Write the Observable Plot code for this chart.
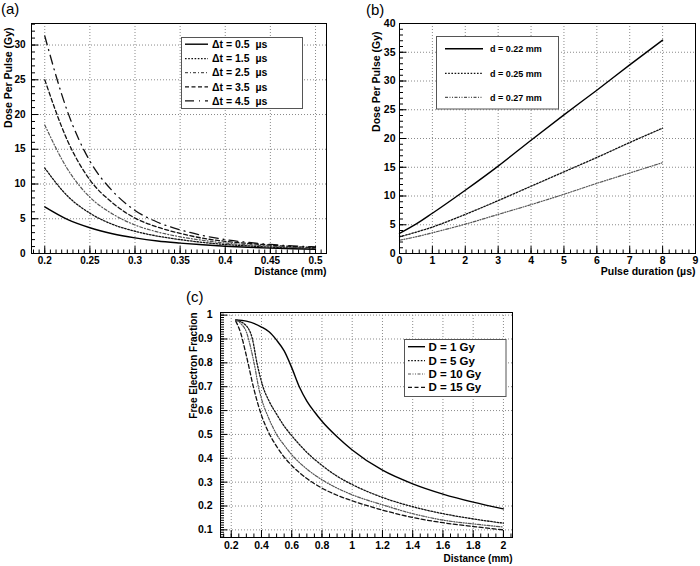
<!DOCTYPE html>
<html><head><meta charset="utf-8">
<script src="https://cdn.jsdelivr.net/npm/d3@7"></script>
<script src="https://cdn.jsdelivr.net/npm/@observablehq/plot@0.6"></script>
<style>
body{margin:0;background:#fff;}
#root{position:relative;width:700px;height:566px;background:#fff;overflow:hidden;}
.panel{position:absolute;}
#overlay{position:absolute;left:0;top:0;pointer-events:none;}
</style></head><body><div id="root"></div>
<script>
const FONT = '"Liberation Sans", Arial, Helvetica, sans-serif';

// ---------- Panel (a): Dose per pulse vs distance ----------
const aX = [0.2, 0.225, 0.25, 0.275, 0.3, 0.325, 0.35, 0.375, 0.4, 0.425, 0.45, 0.475, 0.5];
const aDose05 = [6.7, 4.9, 3.7, 2.85, 2.25, 1.8, 1.5, 1.25, 1.05, 0.9, 0.78, 0.68, 0.6];
const aDose15 = [12.3, 8.3, 5.8, 4.2, 3.2, 2.5, 2.0, 1.6, 1.3, 1.1, 0.92, 0.8, 0.68];
const aDose25 = [18.5, 12.2, 8.1, 5.7, 4.1, 3.1, 2.4, 1.9, 1.5, 1.25, 1.05, 0.88, 0.75];
const aDose35 = [25, 16.3, 10.6, 7.3, 5.1, 3.8, 2.9, 2.2, 1.75, 1.45, 1.2, 1.0, 0.85];
const aDose45 = [31.3, 20.5, 13.3, 9.0, 6.2, 4.5, 3.4, 2.6, 2.0, 1.6, 1.3, 1.1, 0.95];
const aNames = ["\u0394t = 0.5 \u00a0\u00b5s", "\u0394t = 1.5 \u00a0\u00b5s", "\u0394t = 2.5 \u00a0\u00b5s", "\u0394t = 3.5 \u00a0\u00b5s", "\u0394t = 4.5 \u00a0\u00b5s"];
const aXTicks = [0.2, 0.25, 0.3, 0.35, 0.4, 0.45, 0.5];
const aYTicks = [0, 5, 10, 15, 20, 25, 30];

// ---------- Panel (b): Dose per pulse vs pulse duration ----------
const bX = [0, 0.5, 1, 2, 3, 4, 5, 6, 7, 8];
const bDose022 = [3.5, 5.1, 7.0, 11.0, 15.2, 19.7, 24.1, 28.4, 32.8, 37.1];
const bDose025 = [2.9, 3.7, 4.6, 6.8, 9.2, 11.7, 14.2, 16.7, 19.3, 21.8];
const bDose027 = [2.3, 2.9, 3.6, 5.1, 6.8, 8.5, 10.3, 12.2, 14.0, 15.8];
const bNames = ["d = 0.22 mm", "d = 0.25 mm", "d = 0.27 mm"];
const bXTicks = [0, 1, 2, 3, 4, 5, 6, 7, 8, 9];
const bYTicks = [0, 5, 10, 15, 20, 25, 30, 35, 40];

// ---------- Panel (c): Free electron fraction vs distance ----------
const cX1 = [0.23, 0.3, 0.4, 0.45, 0.5, 0.55, 0.6, 0.65, 0.7, 0.75, 0.8, 0.9, 1.0, 1.2, 1.4, 1.6, 1.8, 2.0];
const cF1 = [0.98, 0.975, 0.95, 0.93, 0.895, 0.85, 0.78, 0.7, 0.64, 0.595, 0.555, 0.49, 0.435, 0.35, 0.293, 0.25, 0.216, 0.188];
const cX5 = [0.23, 0.3, 0.34, 0.37, 0.41, 0.45, 0.5, 0.55, 0.6, 0.7, 0.8, 0.9, 1.0, 1.2, 1.4, 1.6, 1.8, 2.0];
const cF5 = [0.98, 0.955, 0.9, 0.8, 0.7, 0.64, 0.585, 0.535, 0.495, 0.425, 0.37, 0.325, 0.29, 0.236, 0.197, 0.168, 0.146, 0.128];
const cX10 = [0.23, 0.27, 0.3, 0.33, 0.36, 0.38, 0.4, 0.45, 0.5, 0.55, 0.6, 0.7, 0.8, 0.9, 1.0, 1.2, 1.4, 1.6, 1.8, 2.0];
const cF10 = [0.98, 0.96, 0.93, 0.86, 0.77, 0.7, 0.65, 0.565, 0.5, 0.455, 0.415, 0.355, 0.31, 0.275, 0.247, 0.205, 0.168, 0.141, 0.125, 0.112];
const cX15 = [0.23, 0.26, 0.3, 0.35, 0.4, 0.45, 0.5, 0.55, 0.6, 0.7, 0.8, 0.9, 1.0, 1.2, 1.4, 1.6, 1.8, 2.0];
const cF15 = [0.975, 0.93, 0.83, 0.69, 0.58, 0.505, 0.45, 0.405, 0.37, 0.315, 0.275, 0.245, 0.222, 0.183, 0.152, 0.13, 0.114, 0.10];
const cNames = ["D = 1 Gy", "D = 5 Gy", "D = 10 Gy", "D = 15 Gy"];
const cXTicks = [0.2, 0.4, 0.6, 0.8, 1, 1.2, 1.4, 1.6, 1.8, 2];
const cYTicks = [0.1, 0.2, 0.3, 0.4, 0.5, 0.6, 0.7, 0.8, 0.9, 1];

// line styles
const SOLID = {stroke: "#000", strokeWidth: 1.4, strokeDasharray: null};
const DOT = {stroke: "#111", strokeWidth: 1.3, strokeDasharray: "1.6,1.6"};
const DASHDOT = {stroke: "#555", strokeWidth: 1.2, strokeDasharray: "3,2,1,2"};
const DASHDOT2 = {stroke: "#555", strokeWidth: 1.2, strokeDasharray: "3,1.5,1,1.5,1,1.5"};
const DASH = {stroke: "#111", strokeWidth: 1.3, strokeDasharray: "4,2.5"};
const LONGDD = {stroke: "#111", strokeWidth: 1.3, strokeDasharray: "9,5,1,5"};

function zip(xs, ys) { return xs.map((x, i) => ({x, y: ys[i]})); }
function minor(lo, hi, step) {
  const n0 = Math.ceil(lo / step - 1e-9), n1 = Math.floor(hi / step + 1e-9);
  return d3.range(n0, n1 + 1).map(i => +(i * step).toFixed(6));
}

const root = document.getElementById("root");

function panel(o) {
  const innerW = o.width - o.ml - o.mr, innerH = o.height - o.mt - o.mb;
  const [xa, xb] = o.xDomain, [ya, yb] = o.yDomain;
  const perPxY = (yb - ya) / innerH, perPxX = (xb - xa) / innerW;
  const tickStyle = {stroke: "#000", strokeWidth: 1, strokeOpacity: 1};
  // ticks drawn inward from the bottom and left axes (lengths in pixels, converted through the scales)
  const xTickMarks = (ticks, len) => Plot.ruleX(ticks, {x: d => d, y1: ya, y2: ya + len * perPxY, ...tickStyle});
  const yTickMarks = (ticks, len) => Plot.link(ticks, {x1: () => xa, x2: () => xa + len * perPxX, y1: d => d, y2: d => d, ...tickStyle});
  const marks = [
    Plot.gridX({ticks: o.xTicks, stroke: "#8a8a8a", strokeOpacity: 1, strokeDasharray: "1,2"}),
    Plot.gridY({ticks: o.yTicks, stroke: "#8a8a8a", strokeOpacity: 1, strokeDasharray: "1,2"}),
    xTickMarks(minor(xa, xb, o.xMinor), 3.5),
    xTickMarks(o.xTicks, 7),
    yTickMarks(minor(ya, yb, o.yMinor), 3.5),
    yTickMarks(o.yTicks, 7),
    Plot.axisX({ticks: o.xTicks, tickSize: 0, tickPadding: o.xPad, tickFormat: o.xFmt, label: null, fontSize: o.tickFont, fontWeight: "bold"}),
    Plot.axisY({ticks: o.yTicks, tickSize: 0, tickPadding: o.yPad, tickFormat: o.yFmt, label: null, fontSize: o.tickFont, fontWeight: "bold"}),
    ...o.series.map(s => Plot.line(s.data, {x: "x", y: "y", curve: "monotone-x", ...s.style})),
    Plot.frame({stroke: "#000", strokeWidth: 1}),
    Plot.text([o.xLabel], {text: d => d, frameAnchor: "bottom-right", textAnchor: "end", lineAnchor: "middle", dy: o.xLabelDy, fontSize: o.titleFont, fontWeight: "bold"}),
    Plot.text([o.yLabel], {text: d => d, frameAnchor: "top-left", textAnchor: "end", lineAnchor: "middle", rotate: -90, dx: o.yLabelDx, dy: o.yLabelDy, fontSize: o.titleFont, fontWeight: "bold"})
  ];
  const chart = Plot.plot({
    width: o.width, height: o.height,
    marginLeft: o.ml, marginRight: o.mr, marginTop: o.mt, marginBottom: o.mb,
    x: {domain: o.xDomain}, y: {domain: o.yDomain},
    style: {fontFamily: FONT, background: "transparent", color: "#000", overflow: "visible"},
    marks
  });
  chart.classList.add("panel");
  chart.style.left = o.left + "px";
  chart.style.top = o.top + "px";
  root.appendChild(chart);
}

const fmt = d => d3.format("")(d);

panel({
  left: 0, top: 0, width: 340, height: 280, ml: 31, mr: 14, mt: 23, mb: 27,
  xDomain: [0.1853, 0.5122], yDomain: [0, 33.1],
  xTicks: aXTicks, yTicks: aYTicks, xMinor: 0.00625, yMinor: 1,
  xFmt: fmt, yFmt: fmt, xPad: 3, yPad: 6, tickFont: 10, titleFont: 10.5,
  xLabel: "Distance (mm)", yLabel: "Dose Per Pulse (Gy)", xLabelDy: 18, yLabelDx: -23, yLabelDy: 4,
  series: [
    {data: zip(aX, aDose05), style: SOLID},
    {data: zip(aX, aDose15), style: DOT},
    {data: zip(aX, aDose25), style: DASHDOT},
    {data: zip(aX, aDose35), style: DASH},
    {data: zip(aX, aDose45), style: LONGDD}
  ]
});

panel({
  left: 350, top: 0, width: 350, height: 280, ml: 49, mr: 5, mt: 23, mb: 27,
  xDomain: [0, 9], yDomain: [0, 40],
  xTicks: bXTicks, yTicks: bYTicks, xMinor: 0.2, yMinor: 1,
  xFmt: fmt, yFmt: fmt, xPad: 3, yPad: 4, tickFont: 10.5, titleFont: 10.5,
  xLabel: "Pulse duration (\u00b5s)", yLabel: "Dose Per Pulse (Gy)", xLabelDy: 18, yLabelDx: -23, yLabelDy: 8,
  series: [
    {data: zip(bX, bDose022), style: SOLID},
    {data: zip(bX, bDose025), style: DOT},
    {data: zip(bX, bDose027), style: DASHDOT2}
  ]
});

panel({
  left: 180, top: 280, width: 360, height: 286, ml: 40, mr: 28, mt: 32, mb: 29,
  xDomain: [0.129, 2.06], yDomain: [0.068, 1.011],
  xTicks: cXTicks, yTicks: cYTicks, xMinor: 0.05, yMinor: 0.01,
  xFmt: fmt, yFmt: fmt, xPad: 4, yPad: 8, tickFont: 10.5, titleFont: 10,
  xLabel: "Distance (mm)", yLabel: "Free Electron Fraction", xLabelDy: 21, yLabelDx: -26.5, yLabelDy: 0,
  series: [
    {data: zip(cX1, cF1), style: SOLID},
    {data: zip(cX5, cF5), style: DOT},
    {data: zip(cX10, cF10), style: DASHDOT2},
    {data: zip(cX15, cF15), style: DASH}
  ]
});

// ---------- overlay: panel letters and legends ----------
const ov = d3.select(root).append("svg").attr("id", "overlay")
  .attr("width", 700).attr("height", 566)
  .style("font-family", FONT);

[["(a)", 1, 14], ["(b)", 366, 15], ["(c)", 186, 302]].forEach(([t, x, y]) =>
  ov.append("text").attr("x", x).attr("y", y).attr("font-size", 15).text(t));

function legend(box, rows, sx0, sx1, tx, fontSize, names, styles) {
  ov.append("rect").attr("x", box[0]).attr("y", box[1]).attr("width", box[2]).attr("height", box[3])
    .attr("fill", "#fff").attr("stroke", "#555").attr("stroke-width", 1);
  names.forEach((n, i) => {
    const s = styles[i];
    ov.append("line").attr("x1", sx0).attr("x2", sx1).attr("y1", rows[i]).attr("y2", rows[i])
      .attr("stroke", s.stroke).attr("stroke-width", s.strokeWidth)
      .attr("stroke-dasharray", s.strokeDasharray);
    ov.append("text").attr("x", tx).attr("y", rows[i]).attr("dy", "0.36em")
      .attr("font-size", fontSize).attr("font-weight", "bold").text(n);
  });
}
legend([181.5, 37.5, 121, 71], [44.2, 58.6, 72.6, 86.8, 100.8], 185, 208, 212, 10.5, aNames,
  [SOLID, DOT, DASHDOT, DASH, LONGDD]);
legend([436.5, 36.5, 122, 72.5], [48.7, 73.3, 97.3], 445, 483, 490, 9, bNames,
  [SOLID, DOT, DASHDOT2]);
legend([404.5, 339.5, 101.5, 57], [346.7, 360.7, 374, 387.3], 408, 425, 428.5, 11.5, cNames,
  [SOLID, DOT, DASHDOT2, DASH]);
</script></body></html>
